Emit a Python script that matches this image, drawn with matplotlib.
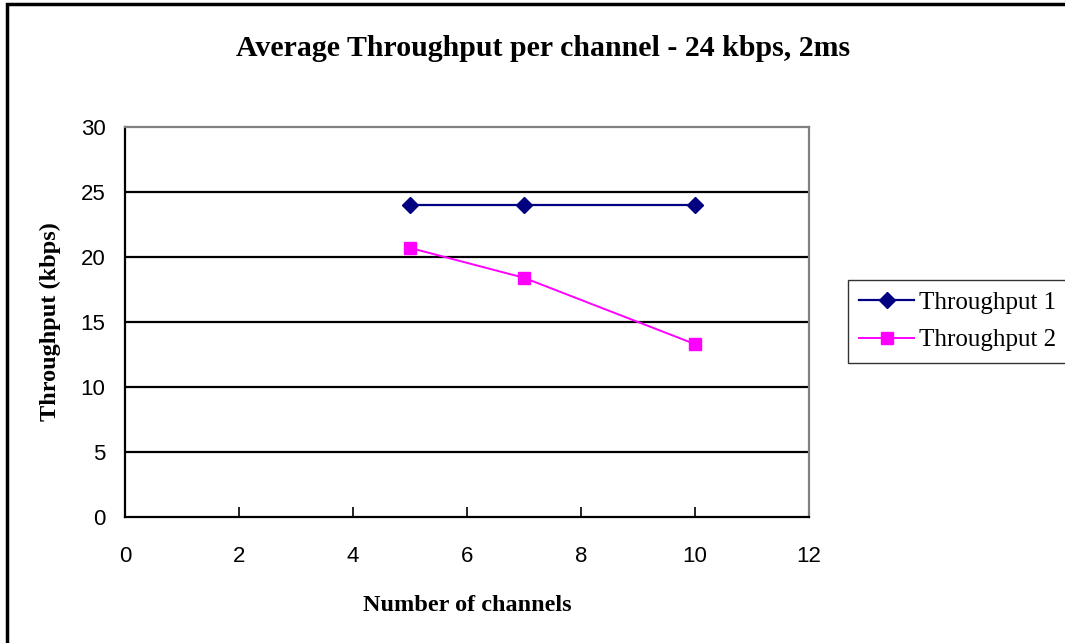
import matplotlib
matplotlib.use('Agg')
import matplotlib.pyplot as plt
from matplotlib.patches import Rectangle

channels = [5, 7, 10]
throughput1 = [24.0, 24.0, 24.0]
throughput2 = [20.7, 18.4, 13.3]
series_names = ['Throughput 1', 'Throughput 2']
xticks = [0, 2, 4, 6, 8, 10, 12]
yticks = [0, 5, 10, 15, 20, 25, 30]

serif = ['Liberation Serif', 'DejaVu Serif']
sans = ['Liberation Sans', 'DejaVu Sans']

fig = plt.figure(figsize=(10.65, 6.43), dpi=100)
ax = fig.add_axes([125/1065, 126/643, 684/1065, 390/643])

# outer chart frame (cut off on the right and bottom like the original)
fig.patches.append(Rectangle((7/1065, -0.05), 1.1, (643-4)/643 + 0.05, transform=fig.transFigure,
                             fill=False, edgecolor='black', linewidth=2.5))

# horizontal gridlines
for yv in yticks[1:-1]:
    ax.axhline(yv, color='black', linewidth=1.6, zorder=1)

ax.plot(channels, throughput1, color='#000080', marker='D', markersize=8,
        linewidth=1.6, label=series_names[0], zorder=3)
ax.plot(channels, throughput2, color='#FF00FF', marker='s', markersize=8,
        linewidth=1.4, label=series_names[1], zorder=3)

ax.set_xlim(0, 12)
ax.set_ylim(0, 30)
ax.set_xticks(xticks)
ax.set_yticks(yticks)
ax.tick_params(axis='x', direction='in', length=7, width=1.2, pad=21, labelsize=16)
ax.tick_params(axis='y', direction='in', length=7, width=1.2, pad=14, labelsize=16)
for lbl in ax.get_xticklabels() + ax.get_yticklabels():
    lbl.set_family(sans)

ax.spines['left'].set_color('black')
ax.spines['bottom'].set_color('black')
ax.spines['top'].set_color('#808080')
ax.spines['right'].set_color('#808080')
for s in ax.spines.values():
    s.set_linewidth(1.6)

ax.set_xlabel('Number of channels', family=serif, fontweight='bold', fontsize=17.5, labelpad=20)
ax.set_ylabel('Throughput (kbps)', family=serif, fontweight='bold', fontsize=17.5, labelpad=14)

fig.text(543/1065, 1 - 49/643, 'Average Throughput per channel - 24 kbps, 2ms',
         family=serif, fontweight='bold', fontsize=21.5, ha='center', va='center')

leg = fig.legend(loc='upper left', bbox_to_anchor=(848/1065, 1 - 280/643),
                 prop={'family': serif, 'size': 18}, frameon=True, fancybox=False,
                 edgecolor='black', handlelength=2.2, borderpad=0.45, labelspacing=0.6,
                 handletextpad=0.2, borderaxespad=0)
leg.get_frame().set_linewidth(1.0)

fig.savefig('out.png', dpi=100)
